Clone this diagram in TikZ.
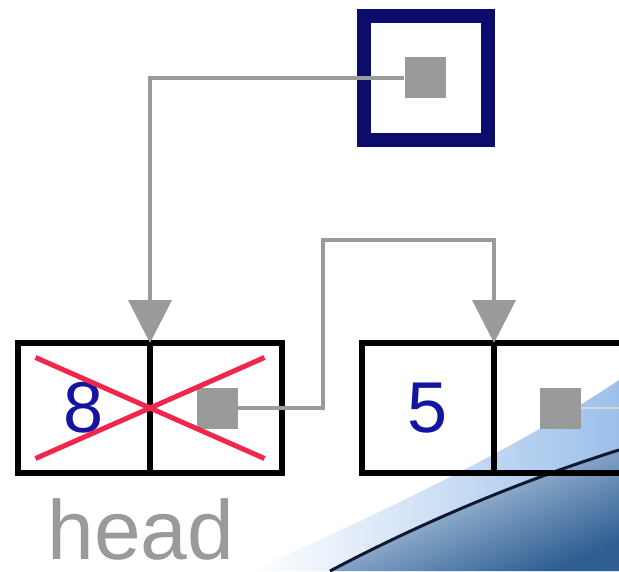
\documentclass[tikz,border=0pt]{standalone}
\usepackage{fontspec}
\setmainfont{Liberation Sans}
\usetikzlibrary{arrows.meta,fit,shapes.misc}
\definecolor{ptrnavy}{HTML}{0C0C6C}
\definecolor{digitblue}{HTML}{1414A0}
\definecolor{linkgray}{HTML}{9A9A9A}
\definecolor{crossred}{HTML}{F0264C}
\definecolor{skyband}{HTML}{9CC0EA}
\definecolor{deepband}{HTML}{2E5E92}
\definecolor{swoosh}{HTML}{101830}
\begin{document}
\begin{tikzpicture}[x=0.5pt, y=-0.5pt,
    cell/.style={draw=black, line width=3pt, minimum width=66pt, minimum height=65pt,
      inner sep=0pt, outer sep=0pt, text=digitblue, font=\fontsize{36}{36}\selectfont},
    dot/.style={fill=linkgray, minimum size=20.5pt, inner sep=0pt},
    link/.style={draw=linkgray, line width=2pt},
    tip/.style={-{Triangle[width=21.5pt, length=21.5pt]}}]
    \useasboundingbox (0,0) rectangle (619,571);
    % slide background in the corner
    \shade[left color=white, right color=skyband]
      (250,571) .. controls (400,505) and (530,440) .. (619,380) -- (619,571) -- cycle;
    \shade[top color=white!60!skyband, bottom color=deepband, shading angle=23]
      (330,571) .. controls (430,518) and (530,478) .. (619,450) -- (619,571) -- cycle;
    \draw[line width=1.5pt, swoosh]
      (330,571) .. controls (430,518) and (530,478) .. (619,450);
    % the pointer
    \node[draw=ptrnavy, line width=7pt, minimum size=62pt, inner sep=0pt] (P) at (426,78) {};
    \node[dot] (Pd) at (425,78) {};
    % the two list nodes
    \node[cell] (A) at (84,408) {8};
    \node[cell] (An) at (216,408) {};
    \node[dot] (Ad) at (217,408) {};
    \node[cell] (B) at (428,408) {5};
    \node[cell] (Bn) at (560,408) {};
    \node[dot] (Bd) at (560,408) {};
    \coordinate (up) at (323,240);
    \node[fit=(A)(An), cross out, draw=crossred, line width=2.5pt,
      inner xsep=-10pt, inner ysep=-8.5pt] (X) {};
    \node[text=linkgray, font=\fontsize{42}{42}\selectfont, anchor=base west,
      inner sep=0pt] (H) at (47,559) {head};
    \draw[link, tip] (Pd.west) -| (A.north east);
    \draw[link, tip] (Ad.east) -| (up) -| (B.north east);
    \draw[linkgray!40, line width=1pt] (Bd.east) -- (Bn.east);
  \end{tikzpicture}
\end{document}
